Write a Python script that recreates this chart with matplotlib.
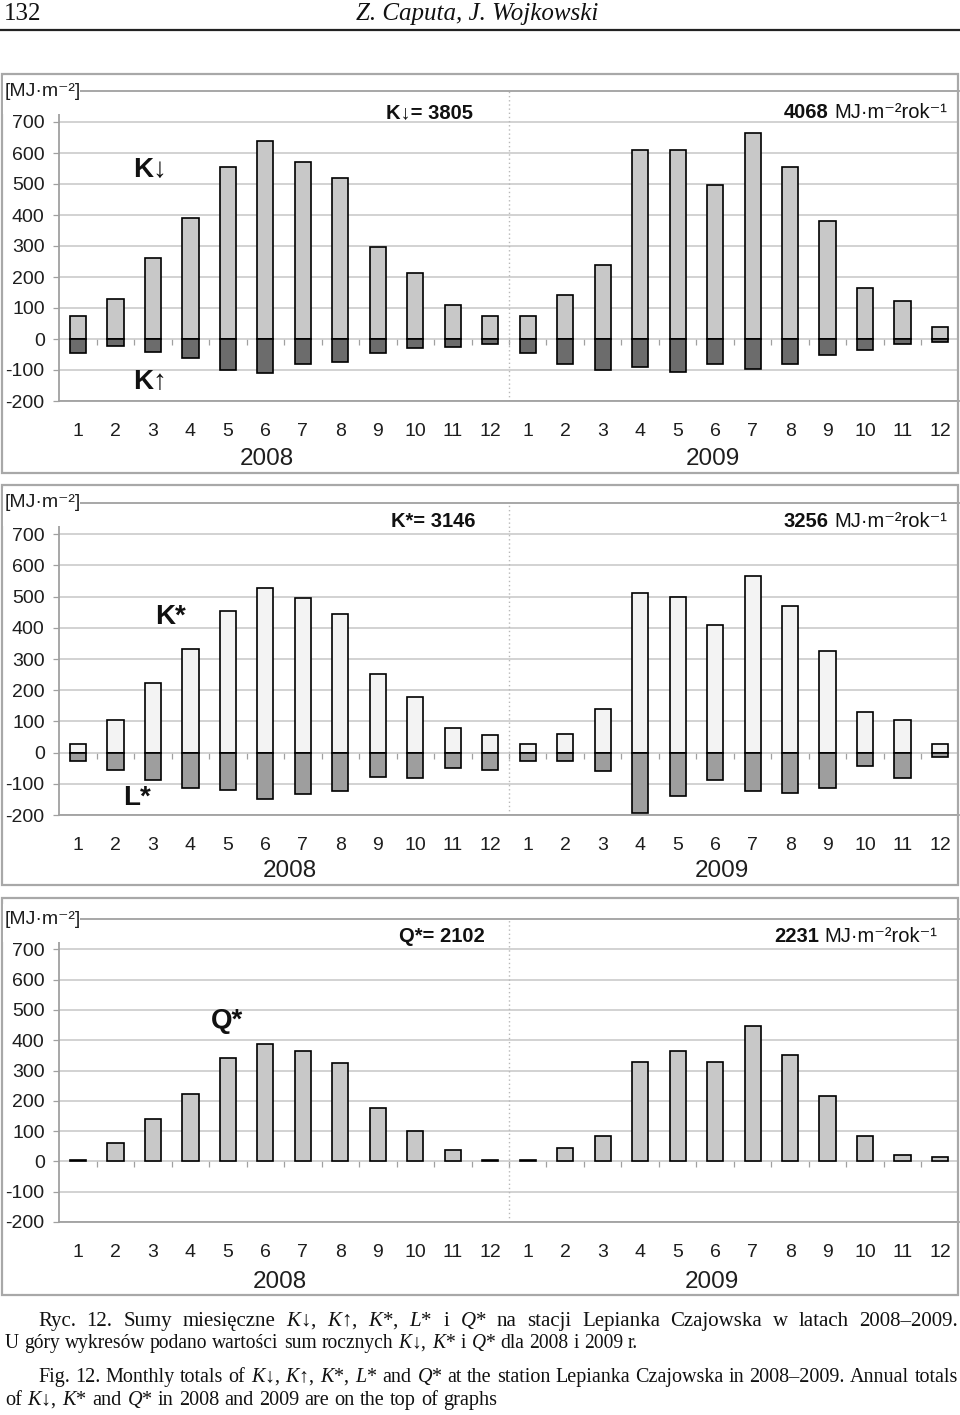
import numpy as np
import matplotlib
matplotlib.use('Agg')
import matplotlib.pyplot as plt
from matplotlib.patches import Rectangle
from matplotlib.lines import Line2D

plt.rcParams['font.family'] = ['Liberation Sans', 'DejaVu Sans']
plt.rcParams['axes.unicode_minus'] = False
plt.rcParams['mathtext.fontset'] = 'custom'
plt.rcParams['mathtext.rm'] = 'Liberation Serif'
plt.rcParams['mathtext.it'] = 'Liberation Serif:italic'
plt.rcParams['mathtext.bf'] = 'Liberation Serif:bold'

# ---------------- data ----------------
month_labels = ['1', '2', '3', '4', '5', '6', '7', '8', '9', '10', '11', '12']
x_labels = month_labels + month_labels
year_labels = ['2008', '2009']
y_ticks = [-200, -100, 0, 100, 200, 300, 400, 500, 600, 700]
y_limits = (-200, 800)

k_down = [75, 129, 262, 390, 555, 640, 570, 520, 298, 213, 109, 73,
          75, 143, 239, 610, 610, 496, 663, 555, 381, 163, 124, 39]
k_up = [-46, -22, -41, -60, -100, -110, -81, -75, -45, -30, -26, -15,
        -45, -81, -101, -90, -105, -81, -96, -81, -51, -37, -15, -10]
k_star = [27, 105, 224, 332, 455, 529, 494, 445, 253, 179, 80, 57,
          27, 60, 139, 513, 499, 410, 566, 470, 326, 129, 105, 27]
l_star = [-26, -55, -89, -113, -119, -148, -132, -123, -79, -83, -48, -55,
          -26, -26, -59, -193, -138, -89, -123, -128, -113, -44, -83, -14]
q_star = [6, 60, 140, 222, 340, 386, 366, 324, 176, 99, 38, 6,
          6, 43, 83, 329, 366, 329, 447, 350, 217, 83, 22, 13]

annual_names = ['K↓', 'K*', 'Q*']
annual_2008 = [3805, 3146, 2102]
annual_2009 = [4068, 3256, 2231]

# ---------------- figure ----------------
W, H = 960, 1415
fig = plt.figure(figsize=(W / 100, H / 100), dpi=100)
fig.patch.set_facecolor('white')
renderer = fig.canvas.get_renderer()


def fx(px):
    return px / W


def fy(py):
    return 1 - py / H


GRID = '#c6c6c6'
SPINE = '#a0a0a0'
TXT = '#1e1e1e'
BAR_W = 0.43
EDGE_LW = 1.2


def make_panel(top, bot, box_top, box_bot):
    fig.add_artist(Rectangle((fx(2), fy(box_bot)), fx(956), (box_bot - box_top) / H,
                             transform=fig.transFigure, fill=False, ec='#a8a8a8', lw=1.6))
    ax = fig.add_axes([fx(59.3), fy(bot), fx(958.7 - 59.3), (bot - top) / H])
    x = np.arange(len(x_labels))
    ax.set_xlim(-0.5, len(x_labels) - 0.5)
    ax.set_ylim(*y_limits)
    ax.set_yticks(y_ticks)
    ax.set_xticks(x, x_labels)
    ax.yaxis.grid(True, color=GRID, lw=1.1)
    ax.set_axisbelow(True)
    ax.axvline(len(month_labels) - 0.5, color='#b8b8b8', lw=1.0, ls=(0, (1, 2)), zorder=1)
    for s in ['top', 'left', 'bottom']:
        ax.spines[s].set_color(SPINE)
        ax.spines[s].set_linewidth(1.3)
    ax.spines['right'].set_visible(False)
    ax.tick_params(axis='y', length=4.5, width=0.9, color=SPINE, pad=6,
                   labelsize=14, labelcolor=TXT)
    ax.tick_params(axis='x', length=0, pad=16, labelsize=14, labelcolor=TXT)
    loc = (0 - y_limits[0]) / (y_limits[1] - y_limits[0])
    sec = ax.secondary_xaxis(loc)
    sec.set_xticks(x[:-1] + 0.5)
    sec.tick_params(axis='x', direction='out', length=4, width=0.9, color=SPINE,
                    labelbottom=False, labeltop=False)
    for sp in sec.spines.values():
        sp.set_visible(False)
    # unit label with white background covering the corner
    fig.add_artist(Rectangle((fx(3), fy(top + 23)), fx(77), 38 / H,
                             transform=fig.transFigure, fc='white', ec='none', zorder=2))
    fig.text(fx(5), fy(top), '[MJ·m⁻²]', ha='left', va='center', size=14,
             color=TXT, zorder=3)
    return ax, x


def years(p08, p09):
    for lab, (px, py) in zip(year_labels, [p08, p09]):
        fig.text(fx(px), fy(py), lab, ha='center', va='center', size=17.5, color=TXT)


def totals(i, cx, base_y, right_x):
    fig.text(fx(cx), fy(base_y), f'{annual_names[i]}= {annual_2008[i]}', ha='center',
             va='baseline', size=14.5, weight='bold', color='#111111')
    u = fig.text(fx(right_x), fy(base_y), 'MJ·m⁻²rok⁻¹', ha='right', va='baseline',
                 size=14.5, color='#111111')
    bb = u.get_window_extent(renderer)
    fig.text((bb.x0 - 5) / W, fy(base_y), str(annual_2009[i]), ha='right', va='baseline',
             size=14.5, weight='bold', color='#111111')


def big(label, px, py):
    fig.text(fx(px), fy(py), label, ha='left', va='center', size=20, weight='bold', color='#111111')


# panel 1: K down / K up
ax1, x = make_panel(91, 401, 74, 473)
ax1.bar(x, k_down, width=BAR_W, color='#c8c8c8', edgecolor='black', lw=EDGE_LW, zorder=3)
ax1.bar(x, k_up, width=BAR_W, color='#6c6c6c', edgecolor='black', lw=EDGE_LW, zorder=3)
years((267, 459), (713, 459))
totals(0, 430, 118, 947)
big('K↓', 133, 170)
big('K↑', 133, 382)

# panel 2: K* / L*
ax2, x = make_panel(503, 815, 485, 885)
ax2.bar(x, k_star, width=BAR_W, color='#f3f3f3', edgecolor='black', lw=EDGE_LW, zorder=3)
ax2.bar(x, l_star, width=BAR_W, color='#9e9e9e', edgecolor='black', lw=EDGE_LW, zorder=3)
years((290, 871), (722, 871))
totals(1, 433, 527, 947)
big('K*', 155, 617)
big('L*', 123, 798)

# panel 3: Q*
ax3, x = make_panel(919, 1222, 898, 1295)
ax3.bar(x, q_star, width=BAR_W, color='#c8c8c8', edgecolor='black', lw=EDGE_LW, zorder=3)
years((280, 1282), (712, 1282))
totals(2, 442, 942, 937)
big('Q*', 211, 1021)

# ---------------- header ----------------
fig.text(fx(4), fy(14), '132', ha='left', va='center', size=18, family='Liberation Serif', color='#111111')
fig.text(fx(477), fy(14), 'Z. Caputa, J. Wojkowski', ha='center', va='center', size=18,
         family='Liberation Serif', style='italic', color='#111111')
fig.add_artist(Line2D([0, 1], [fy(29.5), fy(29.5)], transform=fig.transFigure, color='#222222', lw=1.6))


# ---------------- caption ----------------
def place_line(s, x0, x1, ybase, size, justify):
    words = s.split(' ')
    texts = [fig.text(0, fy(ybase), w, size=size, family='Liberation Serif', va='baseline',
                      ha='left', color='#111111') for w in words]
    target = x1 - x0

    def measure():
        return [t.get_window_extent(renderer).width for t in texts]

    widths = measure()
    space = size * 100 / 72 * 0.25
    natural = sum(widths) + space * (len(words) - 1)
    if natural > target:
        sz = size * target / natural
        for t in texts:
            t.set_fontsize(sz)
        widths = measure()
        space = sz * 100 / 72 * 0.25
    if justify and len(words) > 1:
        gap = (target - sum(widths)) / (len(words) - 1)
    else:
        gap = space
    xx = x0
    for t, w in zip(texts, widths):
        t.set_x(xx / W)
        xx += w + gap


place_line('Ryc. 12. Sumy miesięczne $K$↓, $K$↑, $K$*, $L$* i $Q$* na stacji Lepianka '
           'Czajowska w latach 2008–2009.', 38, 958, 1326, 15, True)
place_line('U góry wykresów podano wartości sum rocznych $K$↓, $K$* i $Q$* dla 2008 i 2009 r.',
           5, 638, 1348, 15, True)
place_line('Fig. 12. Monthly totals of $K$↓, $K$↑, $K$*, $L$* and $Q$* at the station Lepianka '
           'Czajowska in 2008–2009. Annual totals', 38, 958, 1382, 15, True)
place_line('of $K$↓, $K$* and $Q$* in 2008 and 2009 are on the top of graphs', 5, 497, 1405, 15, True)

fig.savefig('out.png', dpi=100, facecolor='white')
